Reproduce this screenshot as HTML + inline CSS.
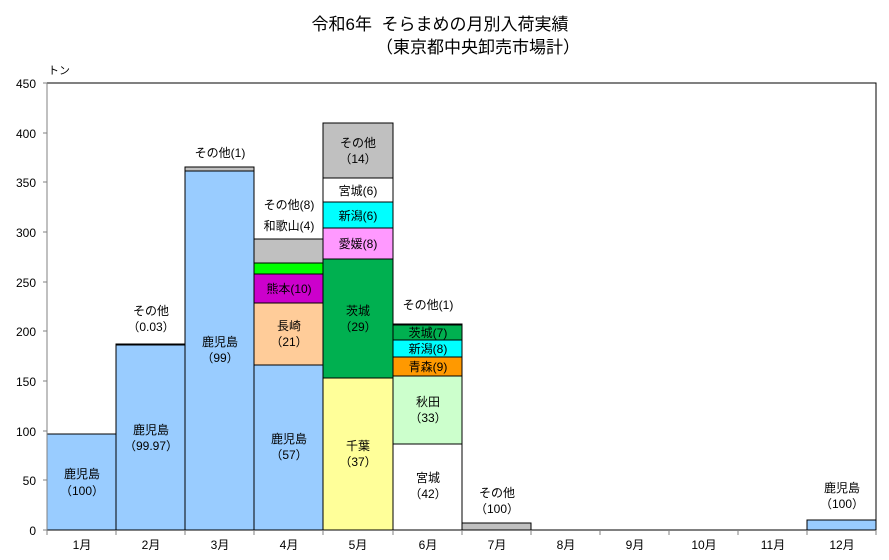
<!DOCTYPE html>
<html><head><meta charset="utf-8"><style>
body{margin:0;background:#fff}
text{font-family:"Liberation Sans","Noto Sans CJK JP",sans-serif;font-size:12px;fill:#000}
</style></head><body>
<svg width="889" height="555" viewBox="0 0 889 555" xmlns="http://www.w3.org/2000/svg">
<text x="440" y="30" text-anchor="middle" style="font-size:17px">令和6年&#160;&#160;そらまめの月別入荷実績</text>
<text x="478" y="53" text-anchor="middle" style="font-size:17px">（東京都中央卸売市場計）</text>
<text x="48" y="74" style="font-size:11px">トン</text>
<g stroke="#000" stroke-width="1">
<rect x="47" y="434" width="69" height="96" fill="#99ccff"/>
<rect x="116" y="345" width="69" height="185" fill="#99ccff"/>
<rect x="116" y="344" width="69" height="1" fill="#c0c0c0"/>
<rect x="185" y="171" width="69" height="359" fill="#99ccff"/>
<rect x="185" y="167" width="69" height="4" fill="#c0c0c0"/>
<rect x="254" y="365" width="69" height="165" fill="#99ccff"/>
<rect x="254" y="303" width="69" height="62" fill="#ffcc99"/>
<rect x="254" y="274" width="69" height="29" fill="#cc00cc"/>
<rect x="254" y="263" width="69" height="11" fill="#00ff00"/>
<rect x="254" y="239" width="69" height="24" fill="#c0c0c0"/>
<rect x="323" y="378" width="70" height="152" fill="#ffff99"/>
<rect x="323" y="259" width="70" height="119" fill="#00b050"/>
<rect x="323" y="228" width="70" height="31" fill="#ff99ff"/>
<rect x="323" y="202" width="70" height="26" fill="#00ffff"/>
<rect x="323" y="178" width="70" height="24" fill="#ffffff"/>
<rect x="323" y="123" width="70" height="55" fill="#c0c0c0"/>
<rect x="393" y="444" width="69" height="86" fill="#ffffff"/>
<rect x="393" y="376" width="69" height="68" fill="#ccffcc"/>
<rect x="393" y="357" width="69" height="19" fill="#ff9900"/>
<rect x="393" y="340" width="69" height="17" fill="#00ffff"/>
<rect x="393" y="325" width="69" height="15" fill="#00b050"/>
<rect x="393" y="324" width="69" height="1" fill="#c0c0c0"/>
<rect x="462" y="523" width="69" height="7" fill="#c0c0c0"/>
<rect x="807" y="520" width="69" height="10" fill="#99ccff"/>
</g>
<rect x="47" y="83" width="829" height="447" fill="none" stroke="#000"/>
<line x1="47" y1="83" x2="47" y2="530" stroke="#808080"/>
<g stroke="#808080">
<line x1="43" y1="83" x2="47" y2="83"/><line x1="43" y1="133" x2="47" y2="133"/>
<line x1="43" y1="182" x2="47" y2="182"/><line x1="43" y1="232" x2="47" y2="232"/>
<line x1="43" y1="282" x2="47" y2="282"/><line x1="43" y1="331" x2="47" y2="331"/>
<line x1="43" y1="381" x2="47" y2="381"/><line x1="43" y1="431" x2="47" y2="431"/>
<line x1="43" y1="480" x2="47" y2="480"/><line x1="43" y1="530" x2="47" y2="530"/>
<line x1="47" y1="530" x2="47" y2="535"/><line x1="116" y1="530" x2="116" y2="535"/><line x1="185" y1="530" x2="185" y2="535"/><line x1="254" y1="530" x2="254" y2="535"/><line x1="323" y1="530" x2="323" y2="535"/><line x1="393" y1="530" x2="393" y2="535"/><line x1="462" y1="530" x2="462" y2="535"/><line x1="531" y1="530" x2="531" y2="535"/><line x1="600" y1="530" x2="600" y2="535"/><line x1="669" y1="530" x2="669" y2="535"/><line x1="738" y1="530" x2="738" y2="535"/><line x1="807" y1="530" x2="807" y2="535"/><line x1="876" y1="530" x2="876" y2="535"/>
</g>
<g text-anchor="end">
<text x="36" y="88">450</text><text x="36" y="138">400</text><text x="36" y="187">350</text><text x="36" y="237">300</text><text x="36" y="287">250</text><text x="36" y="336">200</text><text x="36" y="386">150</text><text x="36" y="436">100</text><text x="36" y="485">50</text><text x="36" y="535">0</text>
</g>
<g text-anchor="middle">
<text x="82" y="549">1月</text><text x="151" y="549">2月</text><text x="220" y="549">3月</text><text x="289" y="549">4月</text><text x="358" y="549">5月</text><text x="428" y="549">6月</text><text x="497" y="549">7月</text><text x="566" y="549">8月</text><text x="635" y="549">9月</text><text x="704" y="549">10月</text><text x="773" y="549">11月</text><text x="842" y="549">12月</text>
<text x="82" y="478">鹿児島</text><text x="82" y="495">（100）</text>
<text x="151" y="315">その他</text><text x="151" y="331">（0.03）</text>
<text x="151" y="434">鹿児島</text><text x="151" y="450">（99.97）</text>
<text x="220" y="157">その他(1)</text>
<text x="220" y="346">鹿児島</text><text x="220" y="362">（99）</text>
<text x="289" y="209">その他(8)</text><text x="289" y="230">和歌山(4)</text>
<text x="289" y="293">熊本(10)</text>
<text x="289" y="330">長崎</text><text x="289" y="346">（21）</text>
<text x="289" y="443">鹿児島</text><text x="289" y="459">（57）</text>
<text x="358" y="147">その他</text><text x="358" y="163">（14）</text>
<text x="358" y="195">宮城(6)</text>
<text x="358" y="220">新潟(6)</text>
<text x="358" y="248">愛媛(8)</text>
<text x="358" y="315">茨城</text><text x="358" y="331">（29）</text>
<text x="358" y="450">千葉</text><text x="358" y="466">（37）</text>
<text x="428" y="309">その他(1)</text>
<text x="428" y="337">茨城(7)</text>
<text x="428" y="353">新潟(8)</text>
<text x="428" y="371">青森(9)</text>
<text x="428" y="406">秋田</text><text x="428" y="422">（33）</text>
<text x="428" y="482">宮城</text><text x="428" y="498">（42）</text>
<text x="497" y="497">その他</text><text x="497" y="513">（100）</text>
<text x="842" y="492">鹿児島</text><text x="842" y="508">（100）</text>
</g>
</svg>
</body></html>
